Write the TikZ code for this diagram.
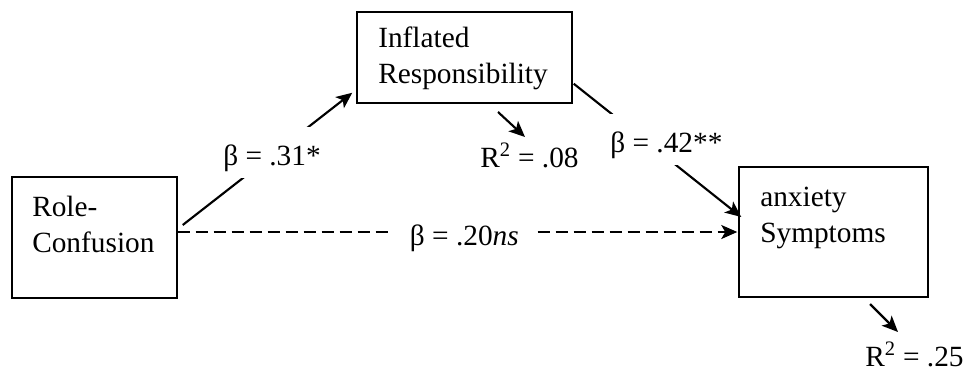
\documentclass[tikz,border=0pt]{standalone}
\usepackage{fontspec}
\setmainfont{Liberation Serif}
\usetikzlibrary{arrows.meta}
\begin{document}
\begin{tikzpicture}[x=0.75pt,y=-0.75pt,
  box/.style={draw, line width=1.1pt, inner sep=0pt},
  txt/.style={font=\fontsize{22}{27}\selectfont, inner sep=0pt, anchor=base west, align=left},
  lab/.style={font=\fontsize{22}{27}\selectfont, anchor=base west, fill=white, inner xsep=0pt, inner ysep=0pt, text height=28.5pt, text depth=9.5pt},
  tip/.style={-{Stealth[length=12pt,width=10.5pt,inset=3pt]}},
  arr/.style={line width=1.6pt, tip},
  dsh/.style={line width=1.5pt, dash pattern=on 9pt off 4.5pt, tip},
]
\useasboundingbox (0,0) rectangle (963,372);
% boxes
\node[box, minimum width=123.75pt, minimum height=90.75pt] (rc) at (94.5,237.5) {};
\node[box, minimum width=161.25pt, minimum height=68.25pt] (ir) at (464.5,57.5) {};
\node[box, minimum width=141.75pt, minimum height=97.5pt] (as) at (833.5,232) {};
% box texts (anchored at the baseline of the last line)
\node[txt] (rct) at (32,252) {Role-\\Confusion};
\node[txt] (irt) at (378,83) {Inflated\\Responsibility};
\node[txt] (ast) at (760,242) {anxiety\\Symptoms};
% connectors
\draw[arr] ([shift={(5,-12.5)}]rc.east) -- ([shift={(-4,-11)}]ir.south west);
\draw[arr] ([shift={(1,-20)}]ir.south east) -- ([shift={(3,-15)}]as.west);
\draw[dsh] (rc.east |- as.west) -- ([xshift=-0.75pt]as.west);
% path labels
\node[lab] (b1) at (223,165) {β = .31*};
\node[lab] (b2) at (610,152) {β = .42**};
\node[lab, inner xsep=14pt] (b3) at (391,245) {β = .20\textit{ns}};
% R squared
\node[txt] (r1) at (480,167) {R\textsuperscript{2} = .08};
\node[txt] (r2) at (865,366) {R\textsuperscript{2} = .25};
\coordinate (r1s) at (498,112);
\coordinate (r1e) at (525,137);
\coordinate (r2s) at (870,304);
\coordinate (r2e) at (898,332);
\draw[arr] (r1s) -- (r1e);
\draw[arr] (r2s) -- (r2e);
\end{tikzpicture}
\end{document}
